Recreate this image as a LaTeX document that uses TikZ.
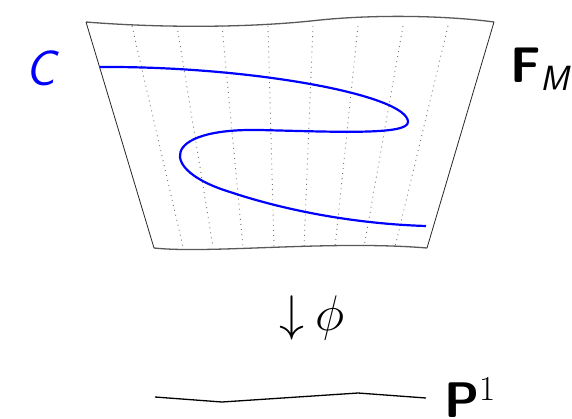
\RequirePackage{fix-cm}
\documentclass[tikz,border=0pt]{standalone}
\begin{document}
\begin{tikzpicture}[x=1pt,y=-1pt,
  rim/.style={draw=black!65,line width=1.3pt},
  side/.style={draw=black!85,line width=0.8pt},
  fibre/.style={draw=black!55,line width=0.9pt,dash pattern=on 0.9pt off 4.2pt},
  curve/.style={draw=blue,line width=2.2pt},
  big/.style={inner sep=0pt,font=\fontsize{50}{50}\selectfont}]
\useasboundingbox (0,0) rectangle (572,418);
% fibres
\foreach \a/\b in {132/183,177/213,222/243,268/274,313/304,358/335,403/364,448/395}
  \draw[fibre] (\a,26) -- (\b,247);
% surface outline
\draw[rim] (86,22) .. controls (160,28) and (250,28) .. (320,20) .. controls (380,14) and (450,16) .. (494,22);
\draw[rim] (154,248) .. controls (210,254) and (330,240) .. (427,248);
\draw[side] (86,22) -- (154,248);
\draw[side] (494,22) -- (427,248);
% curve C
\draw[curve] (100,67) .. controls (250,66) and (408,95) .. (408,122)
  .. controls (408,135) and (340,132) .. (260,130)
  .. controls (160,128) and (158,170) .. (230,192)
  .. controls (290,212) and (360,224) .. (426,226);
% base P^1
\draw[line width=1.3pt] (155,397) -- (222,402) -- (358,393) -- (426,398);
% labels
\node[big,text=blue,anchor=center] (lc) at (41,68) {\sffamily\itshape C};
\node[big,anchor=base west] (lf) at (510,82) {\sffamily\bfseries F\raisebox{-8pt}{\fontsize{35}{35}\selectfont\mdseries\itshape M}};
\node[big,anchor=west] (lphi) at (279,318) {$\downarrow\mkern-1mu\phi$};
\node[big,anchor=base west] (lp) at (444,417) {\sffamily\bfseries P\raisebox{17pt}{\fontsize{35}{35}\selectfont\rmfamily\mdseries 1}};
\end{tikzpicture}
\end{document}
